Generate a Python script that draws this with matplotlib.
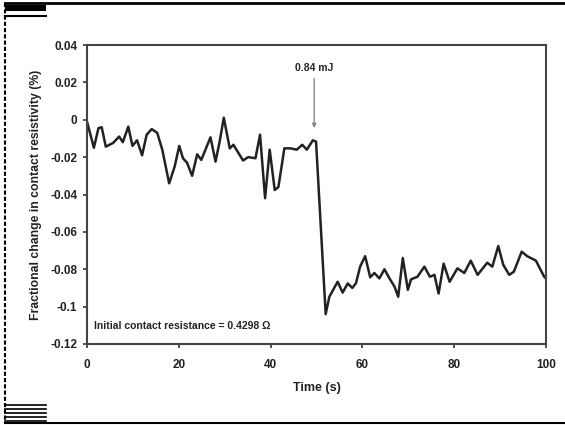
import matplotlib
matplotlib.use("Agg")
import matplotlib.pyplot as plt
from matplotlib.lines import Line2D
from matplotlib.patches import Rectangle

plt.rcParams['font.family'] = ['Liberation Sans', 'DejaVu Sans']
plt.rcParams['font.weight'] = 'bold'

time_s = [0, 1.5, 2.5, 3.2, 4.1, 5.7, 7.0, 7.8, 9.0, 9.9, 10.9, 12.0, 13.0, 14.1,
          15.3, 16.4, 17.9, 19.1, 20.1, 20.9, 21.8, 22.9, 24.0, 24.9, 26.9, 28.0,
          28.9, 29.8, 31.1, 31.9, 34.0, 35.1, 36.7, 37.7, 38.8, 39.8, 40.9, 41.7,
          43.0, 44.3, 45.7, 46.9, 47.9, 49.2, 49.9,
          52.0, 52.8, 54.6, 55.7, 56.8, 57.8, 58.6, 59.5, 60.6, 61.7, 62.6, 63.7,
          64.8, 65.9, 67.0, 67.8, 68.8, 69.9, 70.6, 72.0, 73.5, 74.7, 75.7, 76.6,
          77.7, 79.0, 80.7, 82.2, 83.6, 85.1, 87.2, 88.3, 89.6, 90.7, 92.0, 93.0,
          94.7, 95.9, 97.8, 99.6, 100.0]
change_pct = [-0.001, -0.015, -0.0045, -0.004, -0.0144, -0.0124, -0.009, -0.012,
              -0.0037, -0.014, -0.011, -0.019, -0.008, -0.005, -0.007, -0.016,
              -0.034, -0.025, -0.014, -0.0206, -0.023, -0.030, -0.0185, -0.0215,
              -0.0094, -0.0224, -0.0117, 0.0011, -0.0153, -0.0134, -0.0218, -0.020,
              -0.0206, -0.008, -0.042, -0.016, -0.0376, -0.036, -0.0153, -0.0153,
              -0.016, -0.0134, -0.016, -0.011, -0.0117,
              -0.104, -0.0947, -0.0867, -0.0925, -0.0876, -0.090, -0.0875, -0.0786,
              -0.073, -0.0843, -0.082, -0.0849, -0.080, -0.0849, -0.0893, -0.0947,
              -0.074, -0.091, -0.0854, -0.084, -0.0786, -0.084, -0.083, -0.093,
              -0.077, -0.0867, -0.0795, -0.082, -0.0754, -0.083, -0.0765, -0.0786,
              -0.0676, -0.0777, -0.083, -0.0813, -0.0706, -0.073, -0.0754, -0.084,
              -0.085]

x_ticks = [0, 20, 40, 60, 80, 100]
y_ticks = [0.04, 0.02, 0, -0.02, -0.04, -0.06, -0.08, -0.1, -0.12]
y_tick_labels = ['0.04', '0.02', '0', '-0.02', '-0.04', '-0.06', '-0.08', '-0.1', '-0.12']

fig = plt.figure(figsize=(5.65, 4.25), dpi=100)
ax = fig.add_axes([87/565, 1-344/425, (546-87)/565, (344-45)/425])

ax.plot(time_s, change_pct, color='#222222', lw=1.8, solid_joinstyle='round')
ax.set_xlim(0, 100)
ax.set_ylim(-0.12, 0.04)
ax.set_xticks(x_ticks)
ax.set_yticks(y_ticks)
ax.set_yticklabels(y_tick_labels)
ax.tick_params(direction='out', length=3, width=1.2, colors='#333333',
               labelsize=8.5, labelcolor='#222222')
ax.tick_params(axis='x', pad=8)
ax.tick_params(axis='y', pad=4)
for s in ax.spines.values():
    s.set_linewidth(1.5)
    s.set_color('#444444')

ax.set_xlabel('Time (s)', fontsize=9, fontweight='bold', color='#222222', labelpad=8)
ax.set_ylabel('Fractional change in contact resistivity (%)', fontsize=8.8,
              fontweight='bold', color='#222222', labelpad=6)

ax.annotate('0.84 mJ', xy=(49.5, -0.0045), xytext=(49.5, 0.025),
            ha='center', va='bottom', fontsize=7.5, fontweight='bold', color='#222222',
            arrowprops=dict(arrowstyle='-|>', color='#888888', lw=1.0,
                            mutation_scale=6, shrinkA=2, shrinkB=0))
ax.text(1.5, -0.1105, 'Initial contact resistance = 0.4298 Ω', fontsize=7.5,
        fontweight='bold', color='#222222', va='center', ha='left')

# page decorations
W, H = 565, 425
def fl(x0, y0, x1, y1, **kw):
    fig.add_artist(Line2D([x0/W, x1/W], [1-y0/H, 1-y1/H], transform=fig.transFigure, **kw))
fl(5, 3, 565, 3, color='black', lw=2.0)
fl(5, 423, 565, 423, color='black', lw=1.5)
fl(5, 3, 5, 423, color='black', lw=1.5, ls=(0, (2, 1)))
fig.add_artist(Rectangle((5/W, 1-11/H), 41/W, 6/H, transform=fig.transFigure,
                         color='black', lw=0))
fl(5, 16, 46, 16, color='black', lw=1.5)
for yy in [405, 409, 413, 417, 421]:
    fl(5, yy, 46, yy, color='black', lw=1.2)

fig.savefig('out.png', dpi=100)
